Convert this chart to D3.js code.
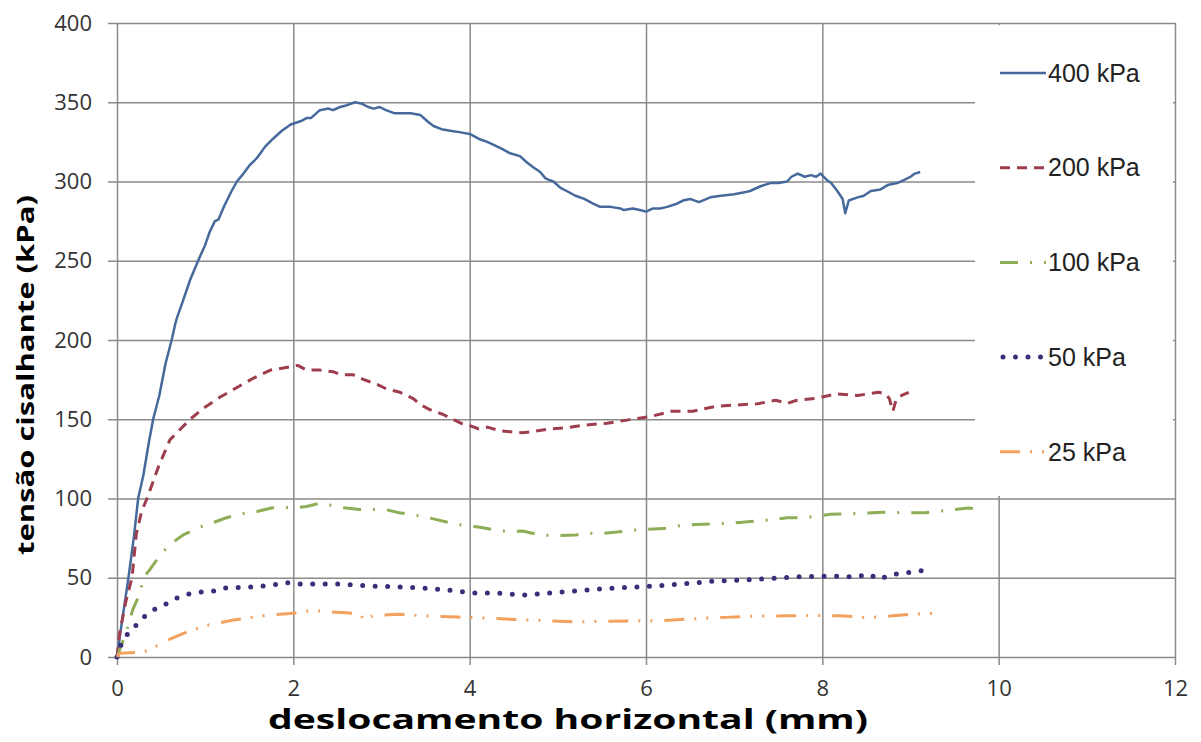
<html>
<head>
<meta charset="utf-8">
<script src="https://d3js.org/d3.v7.min.js"></script>
<style>
body { margin: 0; background: #fff; }
.tick text { font-family: "Open Sans", sans-serif; font-size: 22px; fill: #333; }
.tick line { stroke: #8a8a8a; stroke-width: 1.5; }
</style>
</head>
<body>
<svg width="1201" height="742"></svg>
<script>
// tick values
var xTicks = [0, 2, 4, 6, 8, 10, 12];
var yTicks = [0, 50, 100, 150, 200, 250, 300, 350, 400];

// series names (normal stress)
var names = ["400 kPa", "200 kPa", "100 kPa", "50 kPa", "25 kPa"];

// [deslocamento mm, tensão kPa]
var s400 = [[0,0],[0.05,20],[0.13,50],[0.19,75],[0.24,100],[0.3,115],[0.36,135],[0.41,150],[0.48,165],[0.55,185],[0.62,200],[0.66,210],[0.68,214],[0.75,225],[0.83,238],[0.92,250],[1.0,260],[1.05,268],[1.11,275],[1.15,276],[1.22,285],[1.3,294],[1.36,300],[1.42,304],[1.5,310],[1.59,315],[1.68,322],[1.77,327],[1.87,332],[1.97,336],[2.08,338],[2.15,340],[2.2,340],[2.3,345],[2.4,346],[2.45,345],[2.53,347],[2.6,348],[2.7,350],[2.78,349],[2.85,347],[2.91,346],[2.98,347],[3.05,345],[3.15,343],[3.25,343],[3.33,343],[3.44,342],[3.52,338],[3.59,335],[3.68,333],[3.78,332],[3.9,331],[4.0,330],[4.1,327],[4.2,325],[4.35,321],[4.45,318],[4.57,316],[4.65,312],[4.72,309],[4.8,306],[4.86,302],[4.9,301],[4.95,300],[5.03,296],[5.1,294],[5.2,291],[5.3,289],[5.4,286],[5.48,284],[5.6,284],[5.71,283],[5.75,282],[5.85,283],[5.93,282],[6.0,281],[6.08,283],[6.16,283],[6.24,284],[6.35,286],[6.42,288],[6.5,289],[6.6,287],[6.73,290],[6.85,291],[7.0,292],[7.1,293],[7.18,294],[7.3,297],[7.41,299],[7.5,299],[7.6,300],[7.65,303],[7.72,305],[7.8,303],[7.87,304],[7.93,303],[7.98,305],[8.05,301],[8.1,299],[8.17,294],[8.23,289],[8.26,280],[8.3,288],[8.4,290],[8.47,291],[8.55,294],[8.66,295],[8.75,298],[8.85,299],[8.93,301],[9.0,303],[9.05,305],[9.11,306]];
var s200 = [[0,0],[0.03,15],[0.1,35],[0.17,50],[0.22,78],[0.28,92],[0.34,100],[0.47,120],[0.6,137],[0.83,150],[0.98,157],[1.17,164],[1.36,170],[1.55,176],[1.74,181],[1.96,183],[2.05,184],[2.15,181],[2.3,181],[2.45,180],[2.55,178],[2.68,178],[2.8,175],[2.95,172],[3.06,169],[3.21,167],[3.36,163],[3.45,159],[3.55,156],[3.7,153],[3.9,147.5],[4.0,146],[4.1,144],[4.2,145],[4.35,142.6],[4.6,141.5],[4.75,142.5],[4.87,143.6],[5.1,144.7],[5.32,146.4],[5.56,147.5],[5.8,149.6],[6.05,151.7],[6.29,155],[6.53,155],[6.78,158],[7.02,159],[7.26,159.7],[7.47,162],[7.6,160],[7.71,162],[7.95,163.3],[8.15,166],[8.4,165],[8.64,167],[8.72,166],[8.76,163],[8.8,155],[8.84,163],[8.9,165],[8.98,167]];
var s100 = [[0,0],[0.1,15],[0.18,30],[0.26,40],[0.3,50],[0.37,55],[0.5,65],[0.6,71],[0.75,77],[0.94,82],[1.1,85],[1.25,88],[1.43,90.5],[1.6,92],[1.75,94],[1.89,94.5],[2.0,94],[2.15,95],[2.3,97],[2.45,95.5],[2.6,94],[2.75,93],[2.91,93],[3.05,93],[3.2,91],[3.44,89],[3.6,87],[3.75,85],[3.93,83],[4.1,82],[4.3,80],[4.46,79],[4.6,79.5],[4.8,77],[4.99,76.5],[5.2,77],[5.35,78],[5.52,78],[5.7,79],[5.85,80],[6.0,80.5],[6.2,81],[6.4,83],[6.57,83.6],[6.8,84],[7.09,85],[7.3,86],[7.6,87.8],[7.8,88],[8.09,90],[8.4,90.5],[8.7,91.4],[8.9,91],[9.17,91],[9.4,92.5],[9.65,94],[9.75,93.5]];
var s50 = [[0,0],[0.03,6],[0.09,12.6],[0.2,19],[0.3,25],[0.41,29.6],[0.54,33],[0.67,37],[0.81,39.7],[0.94,41],[1.09,41.6],[1.2,43.5],[1.49,44],[1.77,45.4],[1.91,47],[2.05,46],[2.5,46],[2.91,44.7],[3.33,44],[3.74,42.3],[4.04,40.3],[4.3,40.5],[4.61,39],[5.03,41],[5.48,43],[6.0,44.5],[6.4,46],[6.78,47.9],[7.1,48.5],[7.43,49.6],[7.7,50.5],[8.0,51],[8.2,51],[8.39,50.4],[8.52,52.5],[8.65,49],[8.78,52],[9.0,53.5],[9.2,55]];
var s25 = [[0,0],[0.03,2.4],[0.3,3],[0.45,7],[0.57,10.5],[0.79,15.7],[1.02,20],[1.32,23.3],[1.7,26.4],[2.05,27.8],[2.23,29.6],[2.38,28.5],[2.64,27.7],[2.76,26.4],[2.81,23.3],[2.9,26],[3.18,27],[3.5,26],[3.86,25.2],[4.2,24.5],[4.5,23.7],[4.85,23],[5.18,22.2],[5.5,22.5],[5.86,22.8],[6.2,23],[6.57,24.2],[6.9,25],[7.22,25.8],[7.6,26],[7.91,26.3],[8.2,26],[8.52,24.8],[8.8,26],[9.0,27],[9.22,27.5],[9.35,27.5]];

function draw() {
  var svg = d3.select("svg");
  var pLeft = 117, pRight = 1175, pTop = 23, pBottom = 657;

  var x = d3.scaleLinear().domain([0, 12]).range([pLeft, pRight]);
  var y = d3.scaleLinear().domain([0, 400]).range([pBottom, pTop]);

  // grid + ticks (ticks poke out a few px like Excel)
  svg.append("g")
    .attr("transform", "translate(" + (pLeft - 9) + ",0)")
    .call(d3.axisLeft(y).tickValues(yTicks).tickSize(-(pRight - pLeft + 9)).tickPadding(16))
    .call(function (g) { g.select(".domain").remove(); });

  svg.append("g")
    .attr("transform", "translate(0," + (pBottom + 8) + ")")
    .call(d3.axisBottom(x).tickValues(xTicks).tickSize(-(pBottom - pTop + 8)).tickPadding(15))
    .call(function (g) { g.select(".domain").remove(); });

  // legend box hides the grid behind it
  var lg = svg.append("g");
  lg.append("rect").attr("x", 975).attr("y", 25).attr("width", 198).attr("height", 471).attr("fill", "#fff");

  var styles = [
    { c: "#46699c", w: 2.5, d: null, cap: "butt" },
    { c: "#9e3d4c", w: 3, d: "10,7", cap: "butt" },
    { c: "#8dae56", w: 3, d: "18,12,2,12", cap: "butt" },
    { c: "#3a2d7a", w: 5, d: "0,12.5", cap: "round" },
    { c: "#f2a25e", w: 3, d: "20,10,2,10,2,12", cap: "butt" }
  ];
  var series = [s400, s200, s100, s50, s25];

  var line = d3.line().x(function (d) { return x(d[0]); }).y(function (d) { return y(d[1]); });

  svg.append("g").selectAll("path")
    .data(series)
    .enter()
    .append("path")
    .attr("d", line)
    .attr("fill", "none")
    .attr("stroke", function (d, i) { return styles[i].c; })
    .attr("stroke-width", function (d, i) { return styles[i].w; })
    .attr("stroke-dasharray", function (d, i) { return styles[i].d; })
    .attr("stroke-linecap", function (d, i) { return styles[i].cap; })
    .attr("stroke-linejoin", "round");

  // legend entries
  var items = lg.selectAll(".item").data(names).enter().append("g")
    .attr("transform", function (d, i) { return "translate(1000," + (73 + i * 94.7) + ")"; });
  items.append("line")
    .attr("x1", function (d, i) { return i == 3 ? 3 : 0; }).attr("x2", 46)
    .attr("stroke", function (d, i) { return styles[i].c; })
    .attr("stroke-width", function (d, i) { return styles[i].w; })
    .attr("stroke-dasharray", function (d, i) { return styles[i].d; })
    .attr("stroke-linecap", function (d, i) { return styles[i].cap; });
  items.append("text")
    .attr("x", 48).attr("dy", "0.35em")
    .style("font-family", "Liberation Sans, Arial, sans-serif")
    .style("font-size", "25px")
    .attr("fill", "#222")
    .text(function (d) { return d; });

  // axis titles
  svg.append("text")
    .attr("x", 568).attr("y", 729)
    .style("text-anchor", "middle")
    .style("font-family", "Open Sans, sans-serif")
    .style("font-weight", "bold")
    .style("font-size", "26px")
    .attr("textLength", 600).attr("lengthAdjust", "spacingAndGlyphs")
    .text("deslocamento horizontal (mm)");

  svg.append("text")
    .attr("transform", "translate(34,375) rotate(-90)")
    .style("text-anchor", "middle")
    .style("font-family", "Open Sans, sans-serif")
    .style("font-weight", "bold")
    .style("font-size", "24px")
    .attr("textLength", 360).attr("lengthAdjust", "spacingAndGlyphs")
    .text("tensão cisalhante (kPa)");
}
draw();
</script>
</body>
</html>
